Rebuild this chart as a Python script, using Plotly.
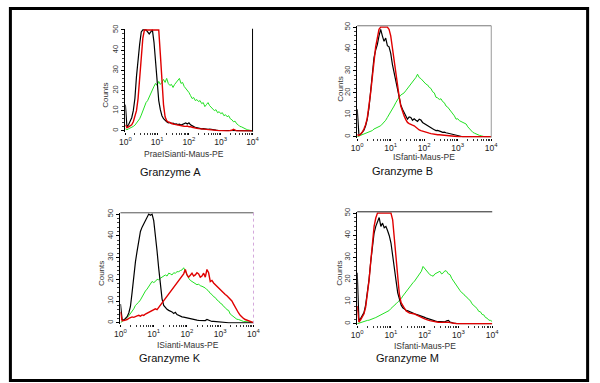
import plotly.graph_objects as go

# ---------------- data (log10 channel positions, counts) ----------------
log_channel = [0.00, 0.05, 0.10, 0.15, 0.20, 0.25, 0.30, 0.35, 0.40, 0.45,
               0.50, 0.55, 0.60, 0.65, 0.70, 0.75, 0.80, 0.85, 0.90, 0.95,
               1.00, 1.05, 1.10, 1.15, 1.20, 1.25, 1.30, 1.35, 1.40, 1.45,
               1.50, 1.55, 1.60, 1.65, 1.70, 1.75, 1.80, 1.85, 1.90, 1.95,
               2.00, 2.05, 2.10, 2.15, 2.20, 2.25, 2.30, 2.35, 2.40, 2.45,
               2.50, 2.55, 2.60, 2.65, 2.70, 2.75, 2.80, 2.85, 2.90, 2.95,
               3.00, 3.05, 3.10, 3.15, 3.20, 3.25, 3.30, 3.35, 3.40, 3.45,
               3.50, 3.55, 3.60, 3.65, 3.70, 3.75, 3.80, 3.85, 3.90, 3.95, 4.00]

gzA_black = [13, 2, 3, 4.5, 6.5, 10, 16, 27, 36, 43,
             49, 50, 50, 50, 49, 48, 49, 50, 44, 33,
             24, 15, 10.5, 7.5, 6, 5, 4.5, 4, 4.2, 3.6,
             3.8, 3.4, 3.5, 3.1, 3.3, 2.9, 3.2, 3.6, 3.9, 3.4,
             4, 3, 2.4, 2.1, 1.8, 1.6, 1.3, 1.2, 1, 1.1,
             0.9, 1, 0.8, 0.9, 0.7, 0.5, 0.6, 0.4, 0.3, 0.3,
             0.2, 0.1, 0, 0, 0, 0, 0, 0, 0, 0,
             0, 0, 0, 0, 0, 0, 0, 0, 0, 0, 0]
gzA_red = [3, 1.5, 2, 2.5, 3, 4.5, 7, 10, 16, 25,
           36, 46, 50, 50, 50, 50, 50, 50, 50, 50,
           50, 50, 38, 24, 13, 7, 5, 4.5, 4, 3.6,
           3.4, 3.2, 3, 2.9, 2.7, 2.6, 2.5, 2.3, 2.2, 2.4,
           2, 2.1, 1.8, 1.5, 1.4, 1.2, 1.1, 1, 0.9, 0.8,
           0.8, 0.6, 0.5, 0.5, 0.4, 0.3, 0.3, 0.2, 0.1, 0.1,
           0.1, 0, 0, 0, 0, 0, 0, 0.3, 0.8, 0.3,
           0, 0, 0, 0, 0, 0, 0, 0, 0, 0, 0]
gzA_green = [1, 0.5, 1, 1.3, 1.8, 2.2, 2.8, 3.8, 4.6, 6,
             7.8, 10, 11.5, 14, 15, 17, 18.5, 21, 22, 23.5,
             22.5, 24.5, 23, 24, 25.5, 24, 26, 23.5, 22.5, 23,
             21.5, 23, 24, 24.5, 26, 23.5, 24, 22, 21, 20.5,
             19, 17.5, 16, 16.5, 15, 15.5, 14.5, 15, 13.5, 14,
             12, 13, 14, 12.5, 11.5, 11, 10, 10.5, 9, 9.5,
             8.5, 9, 7.5, 8, 7, 7.5, 6, 5.5, 4.5, 4.8,
             3.5, 3, 2.2, 2, 1.5, 1.2, 0.8, 0.5, 0.3, 0.1, 0]

gzB_black = [12.5, 1, 1, 1.8, 3, 5, 8, 13, 20, 28,
             36, 39.5, 42, 46, 49, 46, 43.5, 45, 41.5, 41,
             38, 33, 29, 26, 21, 17.5, 14.5, 12.5, 11, 9.5,
             8, 9, 8.8, 7.5, 8.2, 7.5, 7, 8, 7.6, 6.5,
             6, 5.2, 4.8, 4.5, 4, 3.6, 3.2, 2.8, 2.9, 2.4,
             2.3, 2, 2.1, 1.8, 1.6, 1.3, 1.2, 1, 0.9, 0.6,
             0.4, 0.3, 0.2, 0, 0, 0, 0, 0, 0, 0,
             0, 0, 0, 0, 0, 0, 0, 0, 0, 0, 0]
gzB_red = [1, 0.5, 1.2, 2, 3.5, 5.5, 8.5, 13.5, 20, 27,
           36, 41, 45, 49, 50, 50, 50, 50, 50, 49,
           46, 40.5, 34.5, 29, 23, 18.5, 14, 11.5, 9.5, 7.8,
           6.5, 6, 5.8, 5.3, 5, 4.2, 3.5, 3.1, 2.8, 2.5,
           2.3, 2, 1.8, 1.6, 1.4, 1.2, 1.1, 1, 0.9, 0.9,
           0.8, 0.7, 0.6, 0.5, 0.4, 0.4, 0.3, 0.3, 0.2, 0,
           0, 0, 0, 0, 0, 0, 0, 0, 0, 0,
           0, 0, 0, 0, 0, 0, 0, 0, 0, 0, 0]
gzB_green = [0, 0.3, 0.6, 1, 1.3, 1.5, 1.8, 2, 2.4, 2.8,
             3.5, 3.8, 4.3, 4.5, 5, 5.8, 6.5, 7.5, 8.8, 10,
             11, 12.5, 14, 15.5, 17, 18, 19, 19.5, 20, 21,
             22, 22.5, 23.6, 24.5, 25.8, 27, 28.5, 27, 26.5, 25.5,
             25, 24, 23.6, 22.5, 22, 20.5, 20, 18, 17.7, 17,
             17.3, 16, 15.5, 14, 13.5, 12.5, 12, 11, 9.5, 8,
             8.2, 7.3, 7, 6.5, 6.2, 5.8, 4.5, 3.5, 2.8, 2,
             1.6, 1.2, 0.9, 0.6, 0.4, 0.1, 0, 0, 0, 0, 0]

gzK_black = [8.6, 1.5, 1.2, 1.8, 2.8, 4.5, 7.5, 14, 22, 28,
             33, 37, 42, 44, 45.5, 47.5, 49, 50, 49.5, 50,
             47, 41, 33, 25, 17.5, 11, 8, 7, 6.2, 5.7,
             5.5, 5, 4.3, 4.8, 3.8, 3.4, 3, 2.7, 2.6, 2.4,
             2.2, 2, 1.7, 1.5, 1.4, 1.3, 1.2, 1.1, 1, 0.9,
             0.9, 1, 1.5, 1.2, 0.7, 0.6, 0.6, 0.5, 0.4, 0.4,
             0.3, 0.3, 0.3, 0.2, 0, 0, 0, 0, 0, 0,
             0, 0, 0, 0, 0, 0, 0, 0, 0, 0, 0]
gzK_red = [5, 0.9, 1, 1.2, 1.5, 2, 2.3, 2.7, 2.5, 3,
           3.2, 3.4, 3, 3.6, 3.4, 4, 4.4, 5, 5.3, 5.7,
           6, 6.4, 6, 7, 8.2, 9.4, 10, 11, 12, 13,
           14.5, 15.3, 16.5, 17.5, 18, 19, 20.5, 21, 22.5, 24.5,
           22, 21, 22, 22.8, 21.5, 22, 23, 22.5, 21, 21.5,
           22.8, 21, 24.5, 23, 19, 19.5, 18.3, 17.5, 16.8, 16,
           15.3, 14.5, 13.8, 13, 12.4, 11.5, 11, 10, 8.6, 7,
           5.7, 4.5, 3.4, 2.6, 2, 1.5, 1.2, 0.8, 0.5, 0.3, 0.1]
gzK_green = [0, 0.5, 1, 1.8, 2.4, 3.2, 4.2, 5.5, 6.4, 8,
             8.6, 9.5, 10.5, 12, 13, 14.6, 15.5, 16.8, 18, 19,
             18.5, 19, 20, 19.8, 20.5, 21, 21.5, 22, 21.5, 22.8,
             22.5, 22, 23, 22.8, 23.5, 23.5, 24, 24.3, 25.3, 23.5,
             21.5, 20.5, 19.5, 19, 18.5, 18.3, 17.5, 17.8, 17, 16.8,
             16.5, 16, 15.2, 14.6, 13.5, 13, 12, 11.6, 10.5, 10,
             9, 8.6, 7.5, 7, 6, 5.7, 4, 3.4, 2.6, 2.4,
             1.6, 1.5, 1, 0.9, 0.6, 0.6, 0.4, 0.3, 0.3, 0.2, 0.1]

gzM_black = [23, 1.7, 2.3, 3.5, 5, 8.5, 14, 20, 28, 35.5,
             41, 44, 46.5, 48, 44, 45.5, 43.4, 44, 42, 39.8,
             36.5, 31.5, 25.5, 19.5, 14, 11, 8.5, 7.2, 6.5, 6.1,
             5.8, 5.4, 5, 4.7, 4.5, 4.2, 4, 3.8, 3.6, 3.2,
             2.9, 2.5, 2.2, 1.9, 1.7, 1.5, 1.3, 1.1, 1, 1,
             0.9, 0.8, 0.9, 1.3, 1.5, 0.8, 0.4, 0.3, 0.2, 0,
             0, 0, 0, 0, 0, 0, 0, 0, 0, 0,
             0, 0, 0, 0, 0, 0, 0, 0, 0, 0, 0]
gzM_red = [8, 0.8, 1.8, 3, 4.5, 7.5, 12.5, 19.5, 28, 37,
           44, 47.8, 50, 50, 50, 50, 50, 50, 50, 50,
           50, 47, 38, 28, 19, 13, 9.5, 8, 7, 5.8,
           5.2, 4.8, 4.7, 4.6, 4.4, 4, 3.6, 3, 2.8, 2.5,
           2.2, 1.8, 1.6, 1.4, 1.2, 1, 0.9, 0.8, 0.7, 0.6,
           0.6, 0.7, 0.8, 0.9, 0.7, 0.5, 0.3, 0.3, 0.2, 0,
           0, 0, 0, 0, 0, 0, 0, 0, 0, 0,
           0, 0, 0, 0, 0, 0, 0, 0, 0, 0, 0]
gzM_green = [0, 0.3, 0.6, 0.8, 1, 1.3, 1.5, 1.6, 1.8, 2.2,
             2.5, 2.8, 3.2, 3.5, 4, 4.3, 4.7, 5, 5.4, 6,
             6.9, 7.5, 8.3, 9, 9.8, 10.5, 11.3, 12.5, 13.5, 14.5,
             15.6, 17, 17.8, 18.5, 19.3, 20.5, 21.5, 22.5, 23.7, 25.9,
             25, 23.7, 22.8, 22.2, 21.8, 21.5, 22.5, 23, 23.5, 23.7,
             22.5, 23, 24, 23.7, 22.5, 22.2, 20.5, 19.3, 18, 17.1,
             15.5, 14.9, 14, 13.5, 12.5, 12, 11, 10.5, 9, 8.3,
             7.2, 6.9, 5.6, 5.4, 4.2, 4, 2.8, 2.5, 1.6, 1.5, 1]

panel_names = ["Granzyme A", "Granzyme B", "Granzyme K", "Granzyme M"]
x_titles = ["PraeISianti-Maus-PE", "ISfanti-Maus-PE", "ISianti-Maus-PE", "ISfanti-Maus-PE"]
y_title = "Counts"
x_tick_vals = [0, 1, 2, 3, 4]
x_tick_text = ["10<sup>0</sup>", "10<sup>1</sup>", "10<sup>2</sup>", "10<sup>3</sup>", "10<sup>4</sup>"]
y_tick_vals = [0, 10, 20, 30, 40, 50]

panels = [
    (gzA_black, gzA_red, gzA_green),
    (gzB_black, gzB_red, gzB_green),
    (gzK_black, gzK_red, gzK_green),
    (gzM_black, gzM_red, gzM_green),
]

# ---------------- layout helpers ----------------
W, H = 600, 383
def px(x):
    return x / W
def py(y):
    return 1 - y / H

# plot boxes in pixels: (left, right, top, bottom)
boxes = [(122, 252, 25, 129), (359, 496, 22, 135), (117, 253, 211, 323), (359, 497, 210, 324)]
counts_pos = [(101, 92), (342, 86), (97, 272), (341, 272)]
xtitle_pos = [(182, 152), (427, 155), (186, 345), (428, 346)]
name_pos = [(168, 170), (405, 169), (168, 358), (410, 358)]

FONT = "Liberation Sans, Arial, sans-serif"
minor_x = [0.301, 0.477, 0.602, 0.699, 0.778, 0.845, 0.903, 0.954]
minor_x = [k + v for k in range(4) for v in minor_x]

fig = go.Figure()
layout = dict(width=W, height=H, margin=dict(l=0, r=0, t=0, b=0),
              paper_bgcolor="white", plot_bgcolor="white", showlegend=False)
annotations = []
shapes = []

colors = {"black": "#000000", "red": "#e00000", "green": "#22e022"}
for i, (blk, red, grn) in enumerate(panels):
    sx = "" if i == 0 else str(i + 1)
    xa, ya = "x" + sx, "y" + sx
    for vals, c, w in [(grn, colors["green"], 1.0), (blk, colors["black"], 1.2), (red, colors["red"], 1.4)]:
        fig.add_trace(go.Scatter(x=log_channel, y=vals, mode="lines", xaxis=xa, yaxis=ya,
                                 line=dict(color=c, width=w), hoverinfo="skip"))
    l, r, t, b = boxes[i]
    layout["xaxis" + sx] = dict(
        domain=[px(l), px(r)], anchor=ya, range=[0, 4], showgrid=False, zeroline=False,
        showline=False, tickvals=x_tick_vals, ticktext=x_tick_text, ticks="outside",
        ticklen=2, tickcolor="#000", tickfont=dict(family=FONT, size=8.5, color="#222"),
        minor=dict(tickvals=minor_x, ticks="outside", ticklen=2, tickcolor="#333"))
    layout["yaxis" + sx] = dict(
        domain=[py(b), py(t)], anchor=xa, range=[-0.4, 50.6], showgrid=False, zeroline=False,
        showline=True, linecolor="#000", linewidth=1, tickvals=y_tick_vals, tickangle=-90,
        ticks="outside", ticklen=3, tickcolor="#000",
        tickfont=dict(family=FONT, size=7.5, color="#333"),
        minor=dict(dtick=2, ticks="outside", ticklen=2, tickcolor="#444"))
    cx, cy = counts_pos[i]
    annotations.append(dict(text=y_title, x=px(cx), y=py(cy), xref="paper", yref="paper",
                            xanchor="center", yanchor="middle", showarrow=False, textangle=-90,
                            font=dict(family=FONT, size=8, color="#333")))
    tx, ty = xtitle_pos[i]
    annotations.append(dict(text=x_titles[i], x=px(tx), y=py(ty), xref="paper", yref="paper",
                            xanchor="center", yanchor="middle", showarrow=False,
                            font=dict(family=FONT, size=8.5, color="#333")))
    nx, ny = name_pos[i]
    annotations.append(dict(text=panel_names[i], x=px(nx), y=py(ny), xref="paper", yref="paper",
                            xanchor="center", yanchor="middle", showarrow=False,
                            font=dict(family=FONT, size=11, color="#111")))

def dom_line(sx, x0, y0, x1, y1, color, width=1, dash="solid"):
    return dict(type="line", xref="x" + sx + " domain", yref="y" + sx + " domain",
                x0=x0, y0=y0, x1=x1, y1=y1, line=dict(color=color, width=width, dash=dash))

# panel A: right border
shapes.append(dom_line("", 1, 0, 1, 1, "#000"))
# panel B: grey top and right border
shapes.append(dom_line("2", 0, 1, 1, 1, "#777"))
shapes.append(dom_line("2", 1, 0, 1, 1, "#999"))
# panel K: top line and light dotted right border
shapes.append(dom_line("3", 0, 1, 1, 1, "#555"))
shapes.append(dom_line("3", 1, 0, 1, 1, "#d4a8dc", dash="dot"))
# panel M: top line
shapes.append(dom_line("4", 0, 1, 1, 1, "#222"))
# outer frame
shapes.append(dict(type="rect", xref="paper", yref="paper", x0=px(4.5), x1=px(594.5),
                   y0=py(380.5), y1=py(4.5), line=dict(color="#000", width=3)))

layout["annotations"] = annotations
layout["shapes"] = shapes
fig.update_layout(**layout)
fig.write_html("out.html", config={"displayModeBar": False},
               post_script="document.body.style.margin='0';document.body.style.overflow='hidden';")
